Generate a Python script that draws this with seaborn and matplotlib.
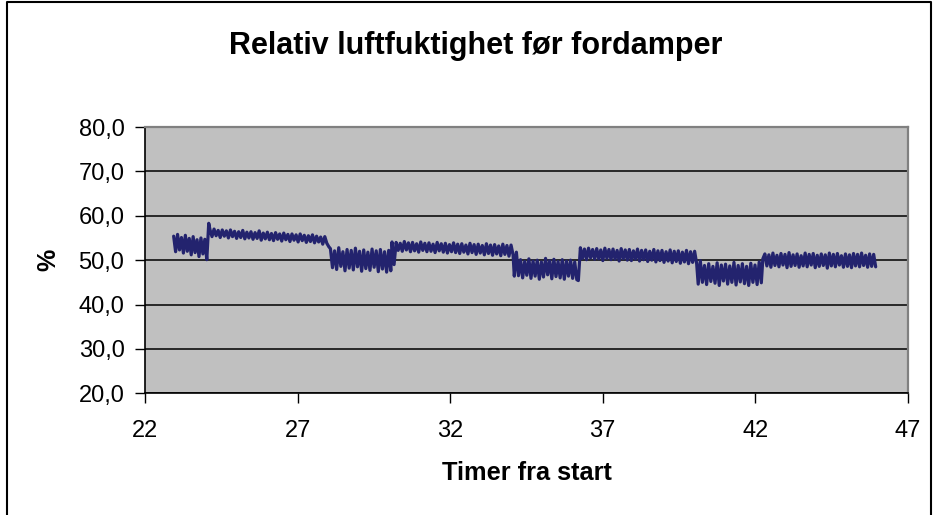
import numpy as np
import pandas as pd
import matplotlib
matplotlib.use("Agg")
import matplotlib.pyplot as plt
from matplotlib.lines import Line2D
import seaborn as sns

# Relative humidity logged before the evaporator, grouped in runs between set-point changes
seg_hours = [(22.93, 24.08), (24.12, 28.02), (28.07, 30.05), (30.09, 34.06),
             (34.10, 36.15), (36.20, 40.08), (40.13, 42.20), (42.25, 45.95)]

rh_1 = [55.4, 51.9, 55.8, 52.3, 55.1, 51.6, 55.6, 52.0, 54.9, 51.2, 55.3, 51.7,
        54.6, 50.8, 55.0, 51.4, 54.7, 50.1, 58.3]
rh_2 = [56.9, 55.3, 57.0, 55.5, 56.7, 55.1, 56.8, 55.4, 56.6, 55.0, 56.8, 55.3,
        56.5, 54.9, 56.4, 55.1, 56.7, 54.8, 56.3, 55.0, 56.4, 54.7, 56.2, 54.9,
        56.6, 54.5, 56.1, 54.8, 56.3, 54.6, 56.0, 54.4, 56.2, 54.7, 55.9, 54.3,
        56.1, 54.6, 55.8, 54.2, 55.9, 54.5, 55.7, 54.1, 55.9, 54.4, 55.6, 54.0,
        55.5, 54.2, 55.7, 53.9, 55.4, 54.1, 55.2, 53.6, 55.3, 53.8, 53.0]
rh_3 = [52.6, 48.3, 52.1, 47.9, 52.8, 48.6, 51.9, 47.6, 52.4, 48.2, 52.2, 47.8,
        52.7, 48.5, 52.0, 47.5, 52.3, 48.1, 51.8, 47.7, 52.5, 48.4, 52.1, 47.4,
        52.4, 48.0, 51.9, 47.3, 52.2, 47.6]
rh_4 = [54.1, 49.0, 54.0, 52.2, 53.8, 52.0, 54.2, 52.3, 53.9, 51.9, 54.0, 52.1,
        53.7, 51.8, 54.1, 52.2, 53.8, 51.9, 53.9, 52.0, 53.6, 51.7, 54.0, 52.1,
        53.7, 51.8, 53.8, 51.6, 53.5, 51.9, 53.9, 51.7, 53.6, 51.5, 53.7, 51.8,
        53.4, 51.4, 53.8, 51.7, 53.5, 51.3, 53.6, 51.6, 53.3, 51.2, 53.7, 51.5,
        53.4, 51.1, 53.5, 51.4, 53.2, 51.0, 53.6, 51.3, 53.3, 50.9, 53.4, 51.2]
rh_5 = [46.4, 51.8, 46.5, 50.1, 46.0, 49.7, 46.6, 50.3, 45.9, 49.8, 46.4, 50.0,
        45.7, 49.6, 46.2, 50.4, 46.7, 49.9, 45.8, 50.2, 46.3, 49.7, 46.0, 50.1,
        45.7, 49.8, 46.4, 50.0, 45.9, 49.6, 45.6]
rh_6 = [45.4, 52.8, 50.4, 52.5, 50.1, 52.7, 50.5, 52.4, 50.2, 52.6, 50.3, 52.3,
        49.9, 52.7, 50.4, 52.4, 50.1, 52.5, 50.2, 52.2, 49.8, 52.6, 50.3, 52.3,
        50.0, 52.4, 49.9, 52.1, 50.2, 52.5, 49.8, 52.2, 50.1, 52.3, 49.7, 52.0,
        50.0, 52.4, 49.6, 52.1, 49.9, 52.2, 49.5, 51.9, 49.8, 52.3, 49.4, 52.0,
        49.7, 52.1, 49.3, 51.8, 49.6, 52.2, 49.2, 51.9, 49.5, 52.0, 49.2]
rh_7 = [44.6, 49.9, 45.0, 48.8, 44.5, 49.2, 45.2, 48.6, 44.8, 49.4, 44.3, 48.9,
        45.3, 49.1, 44.6, 48.7, 45.0, 49.5, 44.4, 48.8, 45.1, 49.2, 44.7, 48.6,
        44.3, 49.3, 45.0, 48.9, 44.5, 49.6, 44.9]
rh_8 = [50.3, 51.4, 48.7, 51.2, 48.4, 51.6, 48.8, 51.1, 48.5, 51.5, 48.9, 51.3,
        48.3, 51.7, 48.6, 51.2, 48.8, 51.4, 48.4, 51.0, 48.7, 51.6, 48.5, 51.3,
        48.9, 51.5, 48.3, 51.1, 48.6, 51.4, 48.8, 51.2, 48.2, 51.6, 48.7, 51.3,
        48.5, 51.5, 48.9, 51.0, 48.4, 51.4, 48.6, 51.2, 48.3, 51.5, 48.7, 51.3,
        48.5, 51.6, 48.8, 51.1, 48.4, 51.4, 48.6, 51.3, 48.5]

x_ticks = [22, 27, 32, 37, 42, 47]
y_ticks = [20, 30, 40, 50, 60, 70, 80]

runs = [rh_1, rh_2, rh_3, rh_4, rh_5, rh_6, rh_7, rh_8]
frames = []
for (t0, t1), vals in zip(seg_hours, runs):
    frames.append(pd.DataFrame({"timer": np.linspace(t0, t1, len(vals)),
                                "rh": vals}))
df = pd.concat(frames, ignore_index=True)

sns.set_theme(style="white")
plt.rcParams["font.family"] = ["Liberation Sans", "DejaVu Sans"]
plt.rcParams["text.color"] = "black"
plt.rcParams["axes.labelcolor"] = "black"

W, H = 933, 515
fig = plt.figure(figsize=(W / 100, H / 100), dpi=100)
ax = fig.add_axes([145.3 / W, 1 - 393.3 / H, (907.7 - 145.3) / W, (393.3 - 127.0) / H])
ax.set_facecolor("#c0c0c0")

sns.lineplot(data=df, x="timer", y="rh", ax=ax, color="#23236e",
             linewidth=2.3, estimator=None, sort=False)

ax.set_xlim(22, 47)
ax.set_ylim(20, 80)
ax.set_xticks(x_ticks)
ax.set_yticks(y_ticks)
ax.set_xticklabels([str(v) for v in x_ticks])
ax.set_yticklabels([f"{v:.1f}".replace(".", ",") for v in y_ticks])
ax.tick_params(axis="both", labelsize=17, colors="black", direction="out",
               length=7, width=1)
ax.tick_params(axis="x", pad=12)
ax.tick_params(axis="y", pad=8)
ax.tick_params(left=True, bottom=True)

ax.set_axisbelow(True)
ax.yaxis.grid(True, color="black", linewidth=1.1)
ax.xaxis.grid(False)

for side in ("top", "right"):
    ax.spines[side].set_color("#808080")
    ax.spines[side].set_linewidth(1.6)
for side in ("left", "bottom"):
    ax.spines[side].set_color("black")
    ax.spines[side].set_linewidth(1.2)

ax.set_xlabel("Timer fra start", fontsize=18.3, fontweight="bold", labelpad=14)
ax.set_ylabel("%", fontsize=18, fontweight="bold", labelpad=13)

fig.text(476 / W, 1 - 46 / H, "Relativ luftfuktighet før fordamper",
         ha="center", va="center", fontsize=22, fontweight="bold")

# outer chart frame (left, top, right edges)
fx0, fx1, fy1 = 7 / W, 931 / W, 1 - 2 / H
fig.add_artist(Line2D([fx0, fx0, fx1, fx1], [-0.01, fy1, fy1, -0.01],
                      color="black", linewidth=1.5, transform=fig.transFigure))

fig.savefig("out.png", dpi=100, facecolor="white")
